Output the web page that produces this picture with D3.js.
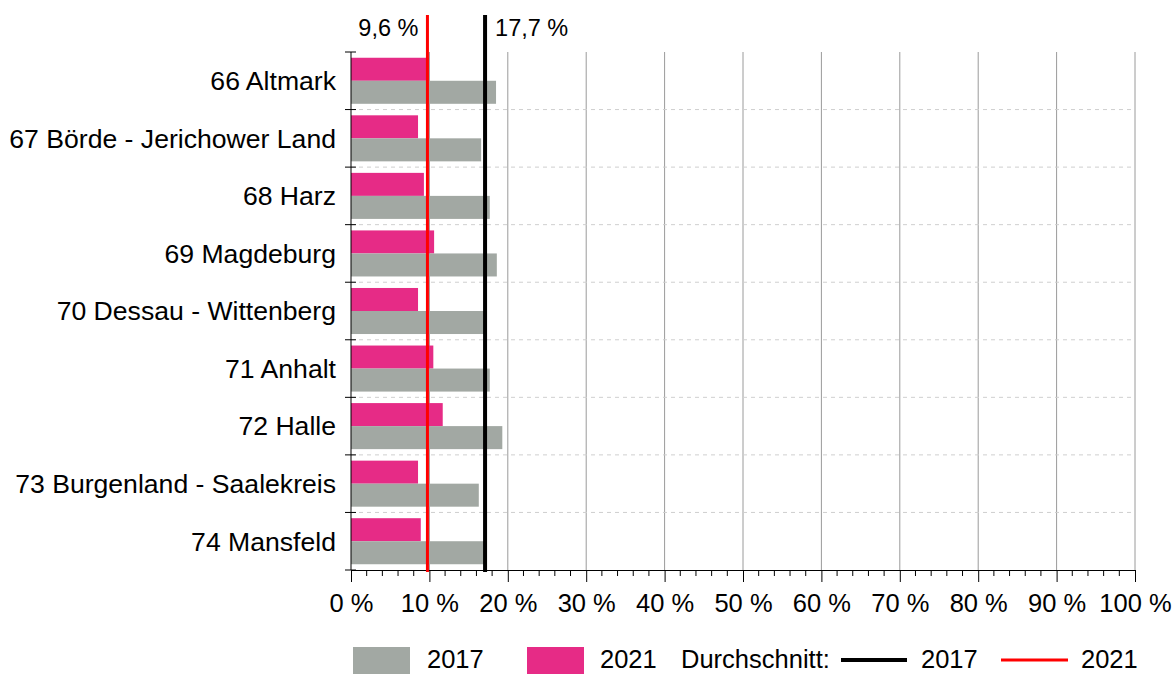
<!DOCTYPE html>
<html>
<head>
<meta charset="utf-8">
<script src="https://cdn.jsdelivr.net/npm/d3@7"></script>
<style>
    body { margin: 0; background: #fff; }
    text { font-family: "Liberation Sans", Arial, sans-serif; fill: #000; }
</style>
</head>
<body>
<div id="canvas"></div>
<script>
"use strict"

/* Data */
let categories = ["66 Altmark", "67 Börde - Jerichower Land", "68 Harz", "69 Magdeburg",
    "70 Dessau - Wittenberg", "71 Anhalt", "72 Halle", "73 Burgenland - Saalekreis", "74 Mansfeld"];
let values2017 = [18.5, 16.6, 17.7, 18.6, 17.1, 17.7, 19.3, 16.3, 17.1];
let values2021 = [9.9, 8.55, 9.3, 10.6, 8.55, 10.5, 11.7, 8.55, 8.9];
let avgYears = ["2017", "2021"];
let avgValues = [17.1, 9.75];
let avgLabels = ["17,7 %", "9,6 %"];
let xTickValues = [0, 10, 20, 30, 40, 50, 60, 70, 80, 90, 100];

let colors = { "2017": "#a2a8a3", "2021": "#e62b86" };
let avgColors = { "2017": "#000", "2021": "#ff0000" };

let drawing = d3.select("#canvas")
    .append("svg")
    .attr("width", 1176)
    .attr("height", 674);

/* Scales */
let plotLeft = 351, plotRight = 1135, plotTop = 52, plotBottom = 570;

let x = d3.scaleLinear()
    .domain([0, 100])
    .range([plotLeft, plotRight]);

let y = d3.scaleBand()
    .domain(categories)
    .range([plotTop, plotBottom])
    .paddingInner(0.2)
    .paddingOuter(0.1);

let ySub = d3.scaleBand()
    .domain(["2021", "2017"])
    .range([0, y.bandwidth()]);

let step = y.step();
let boundaries = d3.range(categories.length + 1).map(i => plotTop + i * step);

/* Vertical grid */
drawing.append("g")
    .selectAll("line")
    .data(xTickValues.slice(1))
    .join("line")
    .attr("x1", d => x(d))
    .attr("x2", d => x(d))
    .attr("y1", plotTop)
    .attr("y2", plotBottom)
    .attr("stroke", "#9a9a9a")
    .attr("stroke-width", 1);

/* Horizontal dashed grid at band edges */
drawing.append("g")
    .selectAll("line")
    .data(boundaries.slice(1, -1))
    .join("line")
    .attr("x1", plotLeft)
    .attr("x2", plotRight)
    .attr("y1", d => d)
    .attr("y2", d => d)
    .attr("stroke", "#cfcfcf")
    .attr("stroke-dasharray", "4,4");

/* Bars */
let rows = categories.map((c, i) => ({ cat: c, "2017": values2017[i], "2021": values2021[i] }));

let groups = drawing.append("g")
    .selectAll("g")
    .data(rows)
    .join("g")
    .attr("transform", d => `translate(0,${y(d.cat)})`);

groups.selectAll("rect")
    .data(d => ["2021", "2017"].map(k => ({ key: k, value: d[k] })))
    .join("rect")
    .attr("x", x(0))
    .attr("y", d => ySub(d.key))
    .attr("width", d => x(d.value) - x(0))
    .attr("height", ySub.bandwidth())
    .attr("fill", d => colors[d.key]);

/* Y axis */
drawing.append("line")
    .attr("x1", plotLeft).attr("x2", plotLeft)
    .attr("y1", plotTop).attr("y2", plotBottom)
    .attr("stroke", "#000");

drawing.append("g")
    .selectAll("line")
    .data(boundaries)
    .join("line")
    .attr("x1", plotLeft - 6)
    .attr("x2", plotLeft + 5)
    .attr("y1", d => d)
    .attr("y2", d => d)
    .attr("stroke", "#000");

drawing.append("g")
    .selectAll("text")
    .data(categories)
    .join("text")
    .attr("x", 336)
    .attr("y", d => y(d) + y.bandwidth() / 2)
    .attr("dy", "0.35em")
    .attr("text-anchor", "end")
    .attr("font-size", 26.6)
    .text(d => d);

/* X axis */
let xAxis = drawing.append("g")
    .attr("transform", `translate(0,${plotBottom})`)
    .call(d3.axisBottom(x)
        .tickValues(xTickValues)
        .tickSize(12)
        .tickPadding(0)
        .tickFormat(d => d + " %"));

xAxis.select(".domain").attr("stroke", "#000");
xAxis.selectAll(".tick line").attr("stroke", "#000");
xAxis.selectAll(".tick text")
    .attr("y", 42)
    .attr("dy", 0)
    .attr("font-size", 25.5)
    .attr("font-family", "Liberation Sans, Arial, sans-serif")
    .attr("fill", "#000");

/* Minor ticks */
drawing.append("g")
    .selectAll("line")
    .data(d3.range(0, 101, 2).filter(d => d % 10 !== 0))
    .join("line")
    .attr("x1", d => x(d))
    .attr("x2", d => x(d))
    .attr("y1", plotBottom)
    .attr("y2", plotBottom + 6)
    .attr("stroke", "#000");

/* Average lines */
let avg = avgYears.map((k, i) => ({ key: k, value: avgValues[i], label: avgLabels[i] }));

drawing.append("g")
    .selectAll("line")
    .data(avg)
    .join("line")
    .attr("x1", d => x(d.value))
    .attr("x2", d => x(d.value))
    .attr("y1", 15)
    .attr("y2", plotBottom + 2)
    .attr("stroke", d => avgColors[d.key])
    .attr("stroke-width", d => d.key === "2017" ? 4 : 3);

drawing.append("g")
    .selectAll("text")
    .data(avg)
    .join("text")
    .attr("x", d => d.key === "2017" ? x(d.value) + 10 : x(d.value) - 9)
    .attr("y", 36)
    .attr("text-anchor", d => d.key === "2017" ? "start" : "end")
    .attr("font-size", 23.5)
    .text(d => d.label);

/* Legend */
let legend = drawing.append("g");
let legendBase = 668;

legend.append("rect").attr("x", 353).attr("y", 647).attr("width", 57).attr("height", 27).attr("fill", colors["2017"]);
legend.append("text").attr("x", 427).attr("y", legendBase).attr("font-size", 25.5).text("2017");
legend.append("rect").attr("x", 527).attr("y", 647).attr("width", 57).attr("height", 27).attr("fill", colors["2021"]);
legend.append("text").attr("x", 600).attr("y", legendBase).attr("font-size", 25.5).text("2021");
legend.append("text").attr("x", 681).attr("y", legendBase).attr("font-size", 25.5).text("Durchschnitt:");
legend.append("line").attr("x1", 841).attr("x2", 907).attr("y1", 660).attr("y2", 660)
    .attr("stroke", avgColors["2017"]).attr("stroke-width", 4);
legend.append("text").attr("x", 921).attr("y", legendBase).attr("font-size", 25.5).text("2017");
legend.append("line").attr("x1", 1001).attr("x2", 1068).attr("y1", 660).attr("y2", 660)
    .attr("stroke", avgColors["2021"]).attr("stroke-width", 3);
legend.append("text").attr("x", 1081).attr("y", legendBase).attr("font-size", 25.5).text("2021");
</script>
</body>
</html>
